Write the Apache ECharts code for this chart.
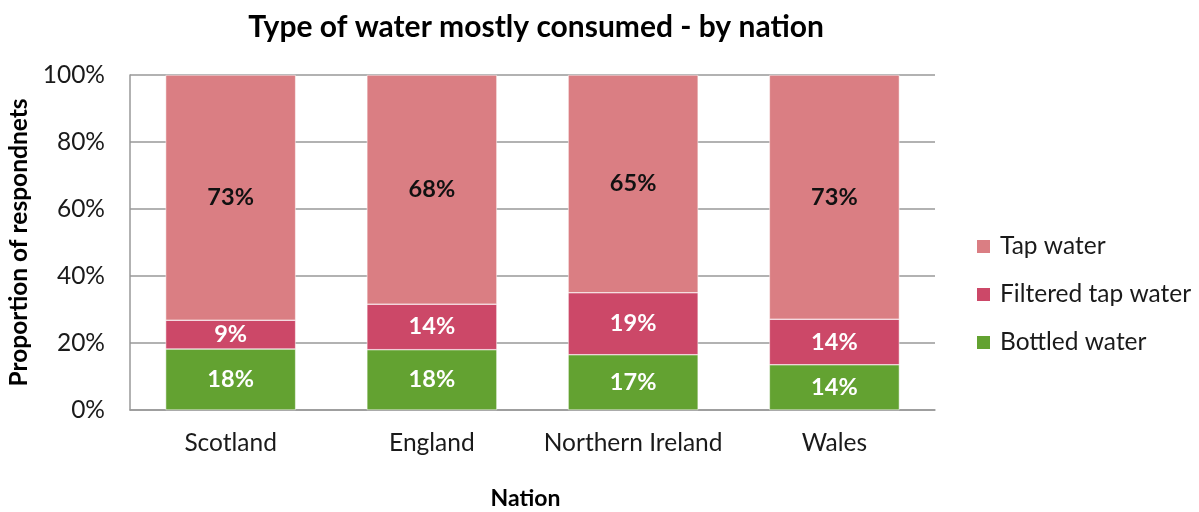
<!DOCTYPE html>
<html><head><meta charset="utf-8">
<script src="https://cdn.jsdelivr.net/npm/echarts@6/dist/echarts.min.js"></script>
<style>html,body{margin:0;padding:0;background:#fff}#c{width:1199px;height:512px}</style>
</head><body><div id="c"></div>
<script>
const categories = ['Scotland', 'England', 'Northern Ireland', 'Wales'];
const bottled = [18.2, 18, 16.5, 13.5];
const filtered = [8.6, 13.6, 18.5, 13.6];
const tap = [73.2, 68.4, 65, 72.9];
const yTicks = [0, 20, 40, 60, 80, 100];

const F = 'Lato';
const chart = echarts.init(document.getElementById('c'));
const lbl = (color) => ({
  show: true, position: 'inside', color: color, fontFamily: F, fontWeight: 'bold', fontSize: 23.5,
  formatter: p => Math.round(p.value) + '%'
});
chart.setOption({
  animation: false,
  title: {
    text: 'Type of water mostly consumed - by nation', left: 531, top: 7, textAlign: 'center',
    textStyle: { fontFamily: F, fontWeight: 'bold', fontSize: 30, color: '#000' }
  },
  legend: {
    orient: 'vertical', left: 970, top: 229, itemGap: 23, itemWidth: 15, itemHeight: 15,
    icon: 'rect', data: ['Tap water', 'Filtered tap water', 'Bottled water'],
    textStyle: { fontFamily: F, fontSize: 24.5, color: '#1a1a1a', padding: [0, 0, 0, 4] }
  },
  grid: { left: 130, right: 264, top: 75, bottom: 102, containLabel: false, outerBoundsMode: 'none' },
  xAxis: {
    type: 'category', data: categories,
    name: 'Nation', nameLocation: 'middle', nameGap: 77,
    nameTextStyle: { fontFamily: F, fontWeight: 'bold', fontSize: 23, color: '#000', padding: [0, 14, 0, 0] },
    axisLine: { lineStyle: { color: '#999', width: 1.5 } },
    axisTick: { show: false },
    axisLabel: { fontFamily: F, fontSize: 24.5, color: '#1a1a1a', margin: 21, interval: 0 }
  },
  yAxis: {
    type: 'value', min: 0, max: 100, interval: 20,
    name: 'Proportion of respondnets', nameLocation: 'middle', nameGap: 96, nameRotate: 90,
    nameTextStyle: { fontFamily: F, fontWeight: 'bold', fontSize: 24.5, color: '#000' },
    axisLine: { show: true, lineStyle: { color: '#999', width: 1.5 } },
    axisTick: { show: false },
    splitLine: { lineStyle: { color: '#999', width: 1.5 } },
    axisLabel: { fontFamily: F, fontSize: 24.5, color: '#1a1a1a', margin: 25,
      formatter: v => yTicks.includes(v) ? v + '%' : '' }
  },
  series: [
    { name: 'Bottled water', type: 'bar', stack: 's', barWidth: 130, data: bottled,
      itemStyle: { color: '#63A231', borderColor: '#fff', borderWidth: 0.5 }, label: lbl('#fff') },
    { name: 'Filtered tap water', type: 'bar', stack: 's', barWidth: 130, data: filtered,
      itemStyle: { color: '#CC4868', borderColor: '#fff', borderWidth: 0.5 }, label: lbl('#fff') },
    { name: 'Tap water', type: 'bar', stack: 's', barWidth: 130, data: tap,
      itemStyle: { color: '#DA7E83', borderColor: '#fff', borderWidth: 0.5 }, label: lbl('#111') }
  ]
});
</script></body></html>
